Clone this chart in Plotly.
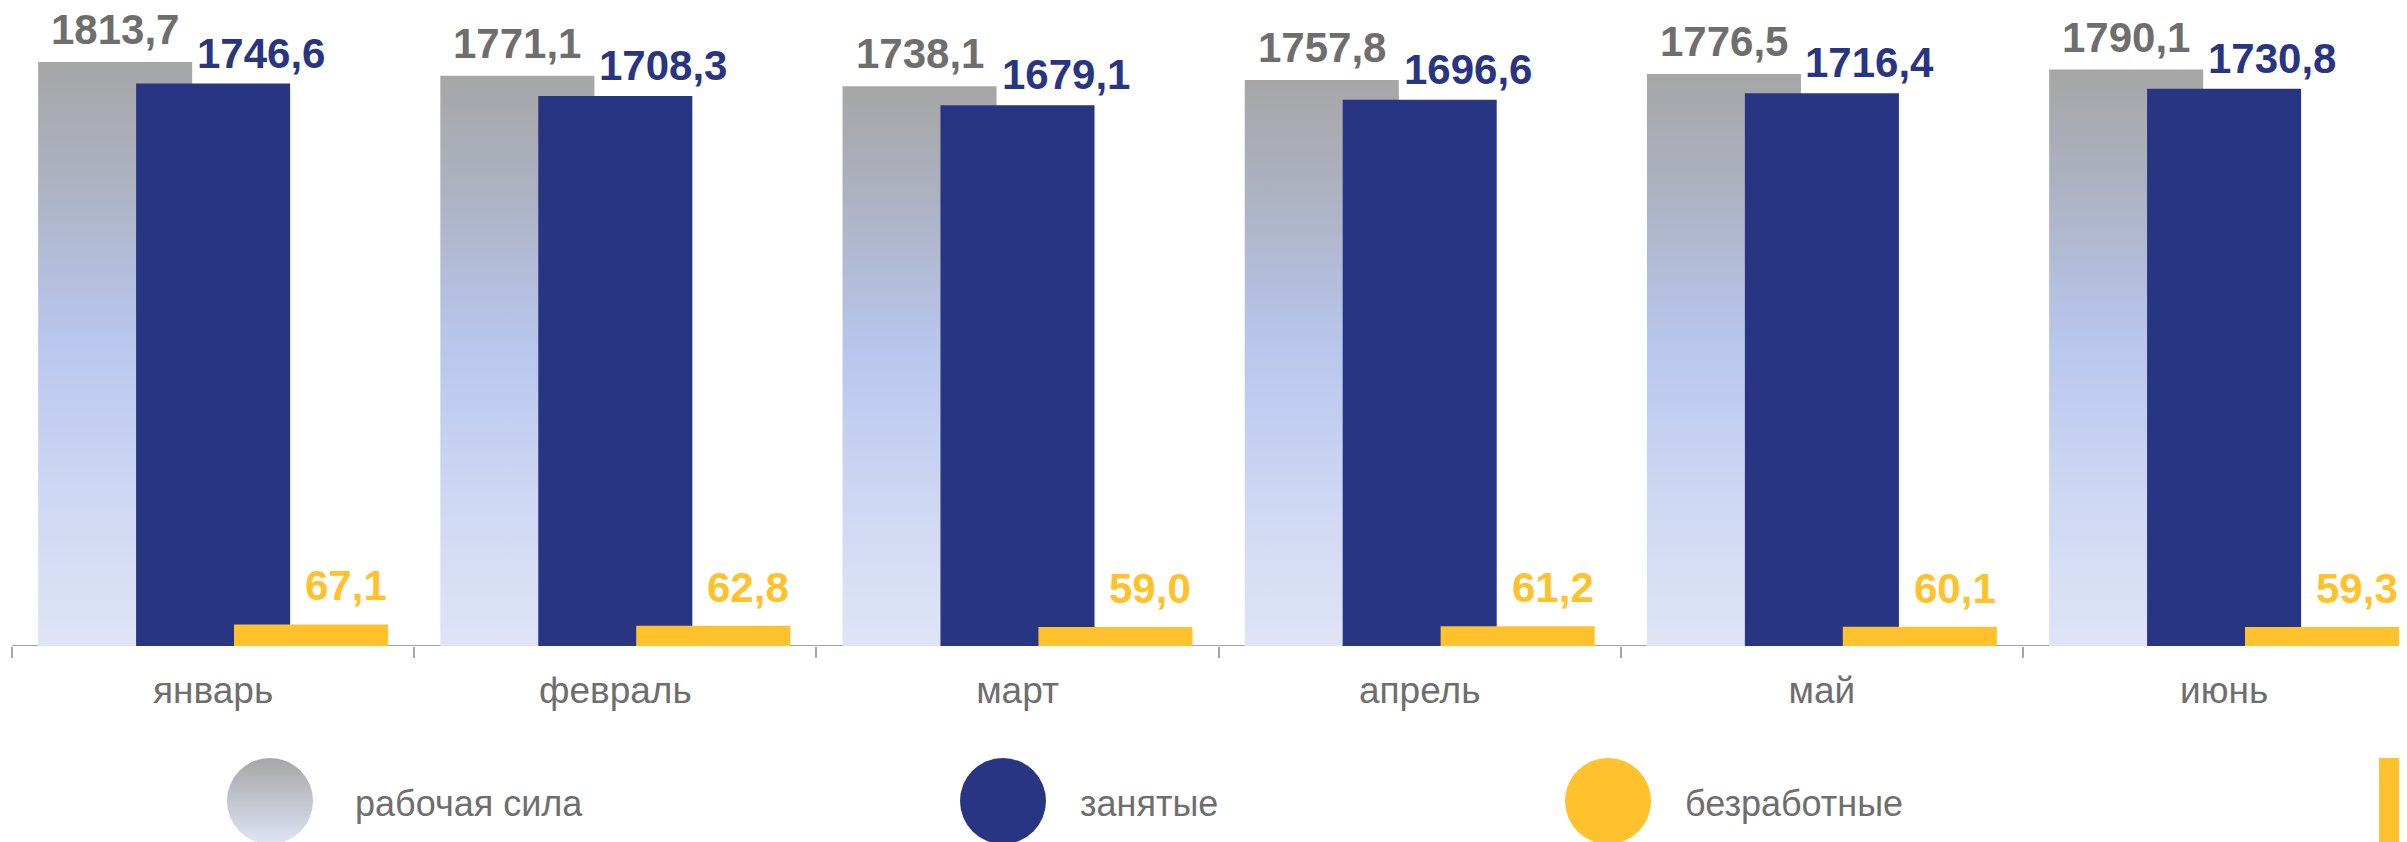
import plotly.graph_objects as go

months = ['январь', 'февраль', 'март', 'апрель', 'май', 'июнь']
labour_force = [1813.7, 1771.1, 1738.1, 1757.8, 1776.5, 1790.1]
employed = [1746.6, 1708.3, 1679.1, 1696.6, 1716.4, 1730.8]
unemployed = [67.1, 62.8, 59.0, 61.2, 60.1, 59.3]
series_names = ['рабочая сила', 'занятые', 'безработные']

# page body keeps its default 8px margin, so the figure is made 8px smaller
PAGE_W, PAGE_H, BODY = 2407, 842, 8
FW, FH = PAGE_W - BODY, PAGE_H - BODY

GRAY_TOP, BLUE_MID, PALE = '#a6a6a6', '#b9c7ee', '#dfe4f6'
NAVY = '#283583'
YELLOW = '#ffc22c'
TXT = '#6e6e6e'
AXIS_GRAY = '#a6a6a6'
REG = 'Liberation Sans, Arial'

BAR_W = 0.383
GRAY_OFF, NAVY_OFF, YEL_OFF = -0.435, -0.1915, 0.052
PLOT_LEFT, AXIS_Y = 12 - BODY, 646 - BODY   # in figure pixels
PX_PER_UNIT = 402.2
Y_MAX = AXIS_Y / 0.322

idx = list(range(len(months)))


def fmt(v):
    return f'{v:.1f}'.replace('.', ',')


fig = go.Figure()

# gray bars with vertical gradient, drawn as filled outlines so they can take a gradient
for i, v in zip(idx, labour_force):
    x0, x1 = i + GRAY_OFF, i + GRAY_OFF + BAR_W
    fig.add_trace(go.Scatter(
        x=[x0, x0, x1, x1, x0], y=[0, v, v, 0, 0], mode='lines', fill='toself',
        line=dict(width=0), hoverinfo='skip', showlegend=False, zorder=0,
        fillgradient=dict(type='vertical', start=0, stop=v,
                          colorscale=[[0, PALE], [0.25, '#cfd8f3'], [0.52, BLUE_MID],
                                      [0.8, '#adb2c2'], [1, GRAY_TOP]])))

fig.add_trace(go.Bar(x=idx, y=employed, width=BAR_W, offset=NAVY_OFF, marker_color=NAVY,
                     marker_line_width=0, name=series_names[1], showlegend=False, zorder=1))
fig.add_trace(go.Bar(x=idx, y=unemployed, width=BAR_W, offset=YEL_OFF, marker_color=YELLOW,
                     marker_line_width=0, name=series_names[2], showlegend=False, zorder=2))

ann = []
for i in idx:
    ann.append(dict(x=i + GRAY_OFF + BAR_W / 2, y=labour_force[i], text=fmt(labour_force[i]),
                    xanchor='center', yanchor='bottom', yshift=8, showarrow=False, borderpad=0,
                    font=dict(family=REG, size=42, color=TXT, weight='bold')))
    ann.append(dict(x=i + NAVY_OFF + BAR_W / 2 + 48 / PX_PER_UNIT, y=employed[i], text=fmt(employed[i]),
                    xanchor='center', yanchor='bottom', yshift=6, showarrow=False, borderpad=0,
                    font=dict(family=REG, size=42, color=NAVY, weight='bold')))
    ann.append(dict(x=i + YEL_OFF + BAR_W, y=unemployed[i], text=fmt(unemployed[i]),
                    xanchor='right', yanchor='bottom', yshift=14, showarrow=False, borderpad=0,
                    font=dict(family=REG, size=42, color=YELLOW, weight='bold')))

# legend row, placed in page pixel coordinates on a helper axis
leg_x = [270, 1003, 1608]
leg_text_gap = [84, 76, 76]
leg_colors = [GRAY_TOP, NAVY, YELLOW]
fig.add_trace(go.Scatter(
    x=leg_x, y=[801] * 3, xaxis='x2', yaxis='y2', mode='markers', hoverinfo='skip',
    showlegend=False, cliponaxis=False,
    marker=dict(size=86, color=leg_colors, line_width=0,
                gradient=dict(type=['vertical', 'none', 'none'], color=[PALE, NAVY, YELLOW]))))
for lx, gap, name in zip(leg_x, leg_text_gap, series_names):
    ann.append(dict(x=lx + gap, y=803, xref='x2', yref='y2', text=name, xanchor='left',
                    yanchor='middle', showarrow=False, borderpad=0,
                    font=dict(family=REG, size=36, color=TXT)))

fig.update_layout(
    width=FW, height=FH, margin=dict(l=0, r=0, t=0, b=0),
    paper_bgcolor='white', plot_bgcolor='rgba(0,0,0,0)', barmode='overlay', showlegend=False,
    annotations=ann,
    shapes=[
        # category axis line
        dict(type='line', xref='x domain', yref='y', x0=0, x1=1, y0=0, y1=0,
             line=dict(color=AXIS_GRAY, width=2), layer='below'),
        # edge of a fourth legend key, cut off by the frame
        dict(type='rect', xref='x2', yref='y2', x0=2379, x1=2450, y0=758, y1=870,
             fillcolor=YELLOW, line_width=0, layer='above'),
    ],
    xaxis=dict(domain=[PLOT_LEFT / FW, 1], range=[-0.5, -0.5 + (FW - PLOT_LEFT) / PX_PER_UNIT],
               tickmode='array', tickvals=idx, ticktext=months,
               ticks='outside', ticklen=1, tickcolor='rgba(0,0,0,0)',
               minor=dict(tickmode='linear', tick0=-0.5, dtick=1, ticks='outside',
                          ticklen=11, tickwidth=2, tickcolor=AXIS_GRAY),
               showline=False, showgrid=False, zeroline=False,
               tickfont=dict(family=REG, size=37, color=TXT), ticklabelstandoff=11,
               fixedrange=True),
    yaxis=dict(domain=[(FH - AXIS_Y) / FH, 1], range=[0, Y_MAX], visible=False, fixedrange=True),
    xaxis2=dict(domain=[0, 1], range=[BODY, PAGE_W], anchor='y2', visible=False, fixedrange=True),
    yaxis2=dict(domain=[0, (FH - AXIS_Y) / FH], range=[PAGE_H, AXIS_Y + BODY], anchor='x2',
                visible=False, fixedrange=True),
)

fig.write_html('out.html')
